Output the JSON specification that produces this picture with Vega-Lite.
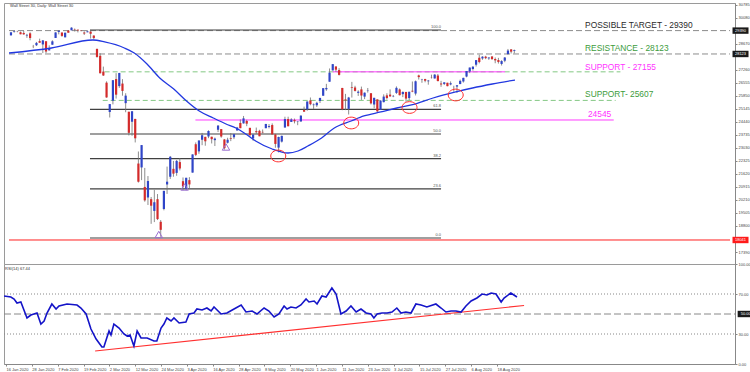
{
  "$schema": "https://vega.github.io/schema/vega-lite/v6.json",
  "padding": {"left": 0, "top": 2, "right": 4, "bottom": 0},
  "background": "white",
  "bounds": "flush",
  "spacing": 0,
  "config": {"view": {"stroke": "#9a9a9a", "strokeWidth": 1}, "font": "Liberation Sans", "concat": {"spacing": 0}},
  "datasets": {
    "candles": [
      {"i":0,"o":29131,"h":29298,"l":29131,"c":29298},{"i":1,"o":29313,"h":29373,"l":29281,"c":29348},{"i":2,"o":29348,"h":29380,"l":29300,"c":29340},{"i":3,"o":29297,"h":29341,"l":29189,"c":29196},{"i":4,"o":29263,"h":29374,"l":29168,"c":29186},{"i":5,"o":29123,"h":29214,"l":28998,"c":29160},{"i":6,"o":29242,"h":29304,"l":28866,"c":28990},{"i":7,"o":28542,"h":28615,"l":28441,"c":28535},{"i":8,"o":28596,"h":28776,"l":28554,"c":28723},{"i":9,"o":28820,"h":28954,"l":28728,"c":28734},
      {"i":10,"o":28640,"h":28879,"l":28170,"c":28859},{"i":11,"o":28813,"h":28813,"l":28169,"c":28256},{"i":12,"o":28319,"h":28592,"l":28319,"c":28400},{"i":13,"o":28625,"h":28865,"l":28625,"c":28808},{"i":14,"o":28991,"h":29300,"l":28991,"c":29290},{"i":15,"o":29316,"h":29408,"l":29187,"c":29380},{"i":16,"o":29286,"h":29286,"l":29056,"c":29103},{"i":17,"o":29025,"h":29277,"l":29025,"c":29276},{"i":18,"o":29390,"h":29416,"l":29276,"c":29276},{"i":19,"o":29406,"h":29568,"l":29406,"c":29551},
      {"i":20,"o":29443,"h":29504,"l":29343,"c":29423},{"i":21,"o":29440,"h":29441,"l":29292,"c":29398},{"i":22,"o":29398,"h":29420,"l":29350,"c":29380},{"i":23,"o":29285,"h":29347,"l":29153,"c":29232},{"i":24,"o":29300,"h":29409,"l":29300,"c":29348},{"i":25,"o":29334,"h":29408,"l":28959,"c":29219},{"i":26,"o":29120,"h":29132,"l":28908,"c":28992},{"i":27,"o":28402,"h":28402,"l":27921,"c":27961},{"i":28,"o":28025,"h":28163,"l":27060,"c":27081},{"i":29,"o":27168,"h":27439,"l":26933,"c":26957},
      {"i":30,"o":26568,"h":26640,"l":25752,"c":25767},{"i":31,"o":24977,"h":25409,"l":24681,"c":25409},{"i":32,"o":25591,"h":26706,"l":25391,"c":26703},{"i":33,"o":26763,"h":27084,"l":25706,"c":25917},{"i":34,"o":26383,"h":27102,"l":26286,"c":27091},{"i":35,"o":26519,"h":26759,"l":25862,"c":26121},{"i":36,"o":25458,"h":25995,"l":24964,"c":25865},{"i":37,"o":24992,"h":24992,"l":23707,"c":23851},{"i":38,"o":24453,"h":25020,"l":23690,"c":25018},{"i":39,"o":24604,"h":24604,"l":23328,"c":23553},
      {"i":40,"o":22185,"h":22838,"l":21154,"c":21200},{"i":41,"o":21973,"h":23186,"l":21285,"c":23185},{"i":42,"o":20917,"h":21948,"l":20116,"c":20189},{"i":43,"o":20345,"h":21507,"l":19938,"c":21237},{"i":44,"o":20253,"h":20373,"l":18917,"c":19899},{"i":45,"o":19617,"h":20755,"l":19012,"c":20087},{"i":46,"o":20253,"h":20531,"l":19122,"c":19174},{"i":47,"o":19028,"h":19121,"l":18214,"c":18592},{"i":48,"o":19722,"h":20705,"l":19649,"c":20705},{"i":49,"o":21050,"h":22020,"l":20539,"c":21201},
      {"i":50,"o":21469,"h":22595,"l":21351,"c":22552},{"i":51,"o":21898,"h":22327,"l":21469,"c":21637},{"i":52,"o":21678,"h":22378,"l":21522,"c":22327},{"i":53,"o":22264,"h":22480,"l":21812,"c":21917},{"i":54,"o":21228,"h":21430,"l":20735,"c":20943},{"i":55,"o":20819,"h":21413,"l":20735,"c":21413},{"i":56,"o":21285,"h":21447,"l":20863,"c":21053},{"i":57,"o":21693,"h":22680,"l":21693,"c":22680},{"i":58,"o":23232,"h":23328,"l":22588,"c":22654},{"i":59,"o":22845,"h":23443,"l":22713,"c":23434},
      {"i":60,"o":23473,"h":23844,"l":23179,"c":23720},{"i":61,"o":23632,"h":23632,"l":23150,"c":23391},{"i":62,"o":23652,"h":23988,"l":23559,"c":23950},{"i":63,"o":23637,"h":23637,"l":23273,"c":23505},{"i":64,"o":23451,"h":23593,"l":23133,"c":23538},{"i":65,"o":24015,"h":24264,"l":23891,"c":24242},{"i":66,"o":24052,"h":24052,"l":23585,"c":23650},{"i":67,"o":23489,"h":23517,"l":22942,"c":23019},{"i":68,"o":23312,"h":23581,"l":23272,"c":23475},{"i":69,"o":23553,"h":23840,"l":23399,"c":23515},
      {"i":70,"o":23609,"h":23792,"l":23510,"c":23775},{"i":71,"o":23976,"h":24168,"l":23976,"c":24134},{"i":72,"o":24381,"h":24574,"l":24101,"c":24101},{"i":73,"o":24361,"h":24764,"l":24353,"c":24634},{"i":74,"o":24491,"h":24556,"l":24210,"c":24346},{"i":75,"o":24120,"h":24120,"l":23645,"c":23724},{"i":76,"o":23548,"h":23777,"l":23422,"c":23750},{"i":77,"o":23941,"h":24135,"l":23794,"c":23883},{"i":78,"o":23958,"h":24015,"l":23662,"c":23664},{"i":79,"o":23900,"h":24030,"l":23820,"c":23875},
      {"i":80,"o":24100,"h":24332,"l":24100,"c":24331},{"i":81,"o":24170,"h":24325,"l":24092,"c":24221},{"i":82,"o":24271,"h":24362,"l":23764,"c":23764},{"i":83,"o":23760,"h":23793,"l":23043,"c":23248},{"i":84,"o":23049,"h":23644,"l":22789,"c":23625},{"i":85,"o":23374,"h":23698,"l":23324,"c":23685},{"i":86,"o":24136,"h":24722,"l":24136,"c":24597},{"i":87,"o":24596,"h":24722,"l":24201,"c":24206},{"i":88,"o":24438,"h":24641,"l":24438,"c":24576},{"i":89,"o":24550,"h":24622,"l":24361,"c":24474},
      {"i":90,"o":24444,"h":24480,"l":24264,"c":24465},{"i":91,"o":24465,"h":24800,"l":24450,"c":24780},{"i":92,"o":25082,"h":25270,"l":24991,"c":24995},{"i":93,"o":25124,"h":25548,"l":25050,"c":25548},{"i":94,"o":25608,"h":25764,"l":25343,"c":25401},{"i":95,"o":25351,"h":25441,"l":25145,"c":25383},{"i":96,"o":25342,"h":25531,"l":25252,"c":25475},{"i":97,"o":25573,"h":25743,"l":25466,"c":25742},{"i":98,"o":25860,"h":26275,"l":25860,"c":26270},{"i":99,"o":26208,"h":26505,"l":26126,"c":26282},
      {"i":100,"o":26619,"h":27338,"l":26619,"c":27111},{"i":101,"o":27232,"h":27580,"l":27232,"c":27572},{"i":102,"o":27447,"h":27447,"l":27154,"c":27272},{"i":103,"o":27251,"h":27355,"l":26958,"c":26990},{"i":104,"o":26283,"h":26283,"l":25076,"c":25128},{"i":105,"o":25659,"h":25960,"l":25081,"c":25606},{"i":106,"o":25148,"h":25797,"l":24843,"c":25763},{"i":107,"o":26326,"h":26611,"l":25760,"c":26290},{"i":108,"o":26307,"h":26400,"l":26089,"c":26120},{"i":109,"o":26016,"h":26155,"l":25849,"c":26080},
      {"i":110,"o":26203,"h":26356,"l":25633,"c":25871},{"i":111,"o":25812,"h":26038,"l":25678,"c":26025},{"i":112,"o":26137,"h":26280,"l":26031,"c":26156},{"i":113,"o":25996,"h":25996,"l":25386,"c":25446},{"i":114,"o":25384,"h":25752,"l":25183,"c":25746},{"i":115,"o":25662,"h":25662,"l":24971,"c":25016},{"i":116,"o":25095,"h":25614,"l":25095,"c":25596},{"i":117,"o":25512,"h":25935,"l":25500,"c":25813},{"i":118,"o":25880,"h":25994,"l":25656,"c":25735},{"i":119,"o":25921,"h":26204,"l":25800,"c":25827},
      {"i":120,"o":25827,"h":25900,"l":25780,"c":25850},{"i":121,"o":26014,"h":26365,"l":25957,"c":26287},{"i":122,"o":26200,"h":26251,"l":25876,"c":25890},{"i":123,"o":25945,"h":26090,"l":25784,"c":26067},{"i":124,"o":26066,"h":26066,"l":25524,"c":25706},{"i":125,"o":25732,"h":26078,"l":25623,"c":26075},{"i":126,"o":26130,"h":26631,"l":26051,"c":26086},{"i":127,"o":25978,"h":26683,"l":25875,"c":26643},{"i":128,"o":26960,"h":27002,"l":26737,"c":26870},{"i":129,"o":26715,"h":26776,"l":26562,"c":26735},
      {"i":130,"o":26764,"h":26780,"l":26587,"c":26672},{"i":131,"o":26643,"h":26715,"l":26457,"c":26681},{"i":132,"o":26850,"h":27003,"l":26793,"c":26840},{"i":133,"o":26796,"h":27026,"l":26792,"c":27005},{"i":134,"o":26955,"h":27039,"l":26645,"c":26652},{"i":135,"o":26523,"h":26666,"l":26343,"c":26470},{"i":136,"o":26500,"h":26589,"l":26438,"c":26585},{"i":137,"o":26563,"h":26564,"l":26370,"c":26379},{"i":138,"o":26470,"h":26637,"l":26426,"c":26540},{"i":139,"o":26312,"h":26400,"l":26080,"c":26314},
      {"i":140,"o":26356,"h":26437,"l":26008,"c":26428},{"i":141,"o":26491,"h":26735,"l":26491,"c":26665},{"i":142,"o":26633,"h":26836,"l":26572,"c":26828},{"i":143,"o":26900,"h":27201,"l":26860,"c":27201},{"i":144,"o":27175,"h":27390,"l":27085,"c":27387},{"i":145,"o":27308,"h":27463,"l":27220,"c":27433},{"i":146,"o":27541,"h":27791,"l":27443,"c":27791},{"i":147,"o":27919,"h":28079,"l":27615,"c":27686},{"i":148,"o":27880,"h":28001,"l":27806,"c":27977},{"i":149,"o":27978,"h":28022,"l":27842,"c":27897},
      {"i":150,"o":27885,"h":27942,"l":27803,"c":27931},{"i":151,"o":27987,"h":28006,"l":27808,"c":27844},{"i":152,"o":27851,"h":27932,"l":27621,"c":27778},{"i":153,"o":27792,"h":27913,"l":27603,"c":27692},{"i":154,"o":27583,"h":27787,"l":27497,"c":27739},{"i":155,"o":27758,"h":27958,"l":27677,"c":27930},{"i":156,"o":28123,"h":28395,"l":28077,"c":28308},{"i":157,"o":28370,"h":28392,"l":28149,"c":28249},{"i":158,"o":28289,"h":28360,"l":28159,"c":28332}
    ],
    "ma": [
      {"i":-0.6,"v":28176},{"i":12.7,"v":28447},{"i":25.7,"v":28881},{"i":29.4,"v":28773},{"i":35.6,"v":28447},{"i":38.7,"v":28176},{"i":42.7,"v":27580},{"i":46.7,"v":26821},{"i":51.1,"v":26225},{"i":55.1,"v":25575},{"i":59.1,"v":25033},{"i":63.5,"v":24653},{"i":67.5,"v":24328},{"i":70.6,"v":24111},{"i":73.7,"v":23786},{"i":76.8,"v":23407},{"i":82,"v":22973},{"i":87,"v":22756},{"i":90.1,"v":22865},{"i":93.2,"v":23136},{"i":97.5,"v":23569},{"i":101.5,"v":24111},{"i":106.8,"v":24491},{"i":110.8,"v":24762},{"i":116.1,"v":24979},{"i":121.1,"v":25195},{"i":125.7,"v":25358},{"i":132.5,"v":25737},{"i":139.6,"v":26063},{"i":144.9,"v":26279},{"i":151.1,"v":26496},{"i":158.2,"v":26713}
    ],
    "levels": [
      {"i":-0.62,"i2":225.7,"v":29390,"k":"gray"},
      {"i":-0.62,"i2":225.7,"v":28123,"k":"gray"},
      {"i":-0.62,"i2":225.7,"v":18041,"k":"red"},
      {"i":29.4,"i2":191.3,"v":27155,"k":"green"},
      {"i":28.8,"i2":189.8,"v":25607,"k":"green"},
      {"i":101,"i2":155.1,"v":27155,"k":"pink"},
      {"i":57.9,"i2":189.2,"v":24545,"k":"pink"},
      {"i":24.8,"i2":135,"v":29423,"k":"fib","t":"100.0"},
      {"i":24.8,"i2":135,"v":25117,"k":"fib","t":"61.8"},
      {"i":24.8,"i2":135,"v":23787,"k":"fib","t":"50.0"},
      {"i":24.8,"i2":135,"v":22456,"k":"fib","t":"38.2"},
      {"i":24.8,"i2":135,"v":20810,"k":"fib","t":"23.6"},
      {"i":24.8,"i2":135,"v":18150,"k":"fib","t":"0.0"}
    ],
    "notes": [
      {"i":180.2,"v":29694,"t":"POSSIBLE TARGET - 29390","k":"black"},
      {"i":180.2,"v":28447,"t":"RESISTANCE  - 28123","k":"green"},
      {"i":180.2,"v":27418,"t":"SUPPORT - 27155","k":"pink"},
      {"i":180.2,"v":25954,"t":"SUPPORT- 25607","k":"green"},
      {"i":181.1,"v":24870,"t":"24545","k":"pink"}
    ],
    "circles": [
      {"i":83.9,"v":22594},{"i":106.8,"v":24382},{"i":125.1,"v":25222},{"i":139.6,"v":25900}
    ],
    "triangles": [
      {"i":46.4,"v":18339},{"i":54.5,"v":20914},{"i":67.5,"v":23082}
    ],
    "boxes": [
      {"i":229,"v":29390,"t":"29390","k":"dark"},
      {"i":229,"v":28123,"t":"28123","k":"dark"},
      {"i":229,"v":18041,"t":"18041","k":"red"}
    ],
    "rsi": [
      {"i":-0.6,"v":68},{"i":1.5,"v":67},{"i":2.5,"v":65},{"i":3.4,"v":61},{"i":4.6,"v":62},{"i":6.5,"v":46},{"i":7.7,"v":49},{"i":9.6,"v":51},{"i":10.8,"v":40},{"i":11.8,"v":43},{"i":12.7,"v":51},{"i":14.2,"v":60},{"i":15.5,"v":55},{"i":16.4,"v":58},{"i":18.9,"v":60},{"i":22,"v":59},{"i":23.2,"v":56},{"i":24.8,"v":50},{"i":26.3,"v":35},{"i":27.9,"v":25},{"i":29.7,"v":17},{"i":30.3,"v":17},{"i":31.9,"v":33},{"i":32.5,"v":29},{"i":33.4,"v":40},{"i":35,"v":36},{"i":36.5,"v":30},{"i":37.5,"v":28},{"i":38.4,"v":29},{"i":39.6,"v":18},{"i":40.6,"v":33},{"i":41.8,"v":26},{"i":43.7,"v":26},{"i":45.8,"v":23},{"i":46.7,"v":23},{"i":48,"v":36},{"i":48.9,"v":40},{"i":49.8,"v":46},{"i":51.1,"v":43},{"i":52,"v":46},{"i":53.6,"v":41},{"i":55.7,"v":42},{"i":56.7,"v":50},{"i":58.2,"v":51},{"i":59.1,"v":55},{"i":60.7,"v":54},{"i":62.2,"v":56},{"i":63.5,"v":53},{"i":64.4,"v":57},{"i":66.6,"v":50},{"i":68.4,"v":51},{"i":70.6,"v":55},{"i":72.8,"v":59},{"i":74.3,"v":52},{"i":76.2,"v":53},{"i":77.7,"v":50},{"i":79.9,"v":56},{"i":81.4,"v":53},{"i":83,"v":47},{"i":84.5,"v":50},{"i":86.1,"v":58},{"i":87,"v":55},{"i":88.2,"v":57},{"i":89.8,"v":56},{"i":91.3,"v":59},{"i":92.9,"v":65},{"i":93.8,"v":62},{"i":95.4,"v":63},{"i":96.3,"v":60},{"i":97.8,"v":68},{"i":99.1,"v":67},{"i":100.9,"v":76},{"i":102.2,"v":70},{"i":103.7,"v":50},{"i":105.3,"v":53},{"i":106.8,"v":58},{"i":108.4,"v":52},{"i":109.9,"v":55},{"i":111.5,"v":51},{"i":113,"v":50},{"i":113.9,"v":46},{"i":114.9,"v":50},{"i":116.4,"v":51},{"i":118,"v":51},{"i":119.5,"v":52},{"i":121,"v":56},{"i":122.3,"v":51},{"i":123.8,"v":52},{"i":125.4,"v":51},{"i":126.9,"v":60},{"i":128.5,"v":59},{"i":130.3,"v":57},{"i":133.1,"v":60},{"i":134.7,"v":56},{"i":136.2,"v":52},{"i":137.8,"v":53},{"i":139.3,"v":53},{"i":140.9,"v":52},{"i":142.4,"v":58},{"i":144,"v":63},{"i":145.8,"v":66},{"i":147.4,"v":70},{"i":148.9,"v":69},{"i":150.2,"v":71},{"i":151.7,"v":70},{"i":153.3,"v":62},{"i":154.2,"v":66},{"i":156.3,"v":71},{"i":158.2,"v":67}
    ],
    "rsiLevels": [
      {"i":-0.62,"i2":225.7,"v":70,"k":"dot"},
      {"i":-0.62,"i2":225.7,"v":30,"k":"dot"},
      {"i":-0.62,"i2":225.7,"v":50,"k":"dash"}
    ],
    "rsiTrend": [{"i":27.6,"i2":160.4,"v":13,"v2":58.5}],
    "rsiBox": [{"i":229,"v":50,"t":"50.00"}],
    "rsiNote": [{"i":-0.3,"v":95,"t":"RSI(14) 67.44"}],
    "title": [{"i":-0.3,"v":30720,"t":"Wall Street 30, Daily: Wall Street 30"}]
  },
  "vconcat": [
    {
      "width": 731,
      "height": 261,
      "encoding": {
        "x": {"field": "i", "type": "quantitative", "scale": {"domain": [-0.62, 225.7], "nice": false, "zero": false}, "axis": null, "title": null},
        "y": {"field": "v", "type": "quantitative", "scale": {"domain": [16740, 30886], "nice": false, "zero": false}, "title": null,
              "axis": {"orient": "right", "values": [17390, 18800, 19505, 20210, 20915, 21620, 22325, 23030, 23735, 24440, 25145, 25850, 26555, 27260, 28670, 30080, 30785], "format": "d", "labelFontSize": 4, "labelColor": "#444", "tickSize": 2, "tickColor": "#888", "domainColor": "#888", "labelPadding": 1, "grid": false, "labelOverlap": false, "labelBound": false, "labelFlush": false}}
      },
      "layer": [
        {"data": {"name": "levels"}, "transform": [{"filter": "datum.k == 'gray'"}], "mark": {"type": "rule", "color": "#8c8c8c", "strokeWidth": 1, "strokeDash": [6, 3]}, "encoding": {"x2": {"field": "i2"}}},
        {"data": {"name": "levels"}, "transform": [{"filter": "datum.k == 'green'"}], "mark": {"type": "rule", "color": "#84c884", "strokeWidth": 1, "strokeDash": [5, 3]}, "encoding": {"x2": {"field": "i2"}}},
        {"data": {"name": "levels"}, "transform": [{"filter": "datum.k == 'pink'"}], "mark": {"type": "rule", "color": "#ff3cff", "strokeWidth": 1}, "encoding": {"x2": {"field": "i2"}}},
        {"data": {"name": "levels"}, "transform": [{"filter": "datum.k == 'red'"}], "mark": {"type": "rule", "color": "#ff2020", "strokeWidth": 1}, "encoding": {"x2": {"field": "i2"}}},
        {"data": {"name": "levels"}, "transform": [{"filter": "datum.k == 'fib'"}], "mark": {"type": "rule", "color": "#404040", "strokeWidth": 1.2}, "encoding": {"x2": {"field": "i2"}}},
        {"data": {"name": "levels"}, "transform": [{"filter": "datum.k == 'fib'"}], "mark": {"type": "text", "align": "right", "baseline": "bottom", "dy": -1, "fontSize": 4, "color": "#555"},
         "encoding": {"x": {"field": "i2", "type": "quantitative", "scale": {"domain": [-0.62, 225.7], "nice": false, "zero": false}, "title": null}, "text": {"field": "t"}}},
        {"data": {"name": "candles"}, "mark": {"type": "rule", "color": "#707070", "strokeWidth": 0.8},
         "encoding": {"y": {"field": "l", "type": "quantitative", "scale": {"domain": [16740, 30886], "nice": false, "zero": false}, "title": null}, "y2": {"field": "h"}}},
        {"data": {"name": "candles"}, "mark": {"type": "bar", "width": 2.2, "orient": "vertical"},
         "encoding": {"y": {"field": "o", "type": "quantitative", "scale": {"domain": [16740, 30886], "nice": false, "zero": false}, "title": null}, "y2": {"field": "c"},
                      "color": {"condition": {"test": "datum.c >= datum.o", "value": "#2f45c8"}, "value": "#d42a2a"}}},
        {"data": {"name": "ma"}, "mark": {"type": "line", "color": "#2238e0", "strokeWidth": 1.3, "interpolate": "monotone"}},
        {"data": {"name": "circles"}, "mark": {"type": "point", "shape": "M -1 0 A 1 0.78 0 1 0 1 0 A 1 0.78 0 1 0 -1 0 Z", "size": 225, "filled": false, "stroke": "#ff2a2a", "strokeWidth": 1, "opacity": 1}},
        {"data": {"name": "triangles"}, "mark": {"type": "point", "shape": "triangle-up", "size": 55, "filled": false, "stroke": "#9a6fd0", "strokeWidth": 1, "opacity": 1}},
        {"data": {"name": "notes"}, "mark": {"type": "text", "align": "left", "baseline": "middle", "fontSize": 8.4, "font": "Liberation Sans"},
         "encoding": {"text": {"field": "t"}, "color": {"field": "k", "type": "nominal", "scale": {"domain": ["black", "green", "pink"], "range": ["#2a2a2a", "#3c9c3c", "#ff33ff"]}, "legend": null}}},
        {"data": {"name": "title"}, "mark": {"type": "text", "align": "left", "baseline": "middle", "fontSize": 4, "color": "#333"}, "encoding": {"text": {"field": "t"}}},
        {"data": {"name": "boxes"}, "transform": [{"filter": "datum.k == 'dark'"}], "mark": {"type": "point", "shape": "M -1 -0.4 L 1 -0.4 L 1 0.4 L -1 0.4 Z", "size": 256, "filled": true, "fill": "#1a1a1a", "opacity": 1, "clip": false}},
        {"data": {"name": "boxes"}, "transform": [{"filter": "datum.k == 'red'"}], "mark": {"type": "point", "shape": "M -1 -0.4 L 1 -0.4 L 1 0.4 L -1 0.4 Z", "size": 256, "filled": true, "fill": "#ff1a1a", "opacity": 1, "clip": false}},
        {"data": {"name": "boxes"}, "mark": {"type": "text", "align": "center", "baseline": "middle", "fontSize": 4, "color": "white", "clip": false}, "encoding": {"text": {"field": "t"}}}
      ]
    },
    {
      "width": 731,
      "height": 100,
      "encoding": {
        "x": {"field": "i", "type": "quantitative", "scale": {"domain": [-0.62, 225.7], "nice": false, "zero": false}, "title": null,
              "axis": {"orient": "bottom", "values": [0, 8, 16, 24, 32, 40, 48, 56, 64, 72, 80, 88, 96, 104, 112, 120, 128, 136, 144, 152],
                       "labelExpr": "['16 Jan 2020','28 Jan 2020','7 Feb 2020','19 Feb 2020','2 Mar 2020','12 Mar 2020','24 Mar 2020','3 Apr 2020','16 Apr 2020','28 Apr 2020','8 May 2020','20 May 2020','1 Jun 2020','11 Jun 2020','23 Jun 2020','3 Jul 2020','15 Jul 2020','27 Jul 2020','6 Aug 2020','18 Aug 2020'][round(datum.value/8)]",
                       "labelAlign": "left", "labelFontSize": 4, "labelColor": "#444", "tickSize": 2, "tickColor": "#888", "domainColor": "#888", "labelPadding": 1, "grid": false, "labelOverlap": false, "labelBound": false, "labelFlush": false}},
        "y": {"field": "v", "type": "quantitative", "scale": {"domain": [0, 100], "nice": false, "zero": false}, "title": null,
              "axis": {"orient": "right", "values": [0, 30, 70, 100], "format": ".2f", "labelFontSize": 4, "labelColor": "#444", "tickSize": 2, "tickColor": "#888", "domainColor": "#888", "labelPadding": 1, "grid": false, "labelOverlap": false, "labelBound": false, "labelFlush": false}}
      },
      "layer": [
        {"data": {"name": "rsiLevels"}, "transform": [{"filter": "datum.k == 'dot'"}], "mark": {"type": "rule", "color": "#888", "strokeWidth": 1, "strokeDash": [1, 2]}, "encoding": {"x2": {"field": "i2"}}},
        {"data": {"name": "rsiLevels"}, "transform": [{"filter": "datum.k == 'dash'"}], "mark": {"type": "rule", "color": "#888", "strokeWidth": 1, "strokeDash": [7, 3]}, "encoding": {"x2": {"field": "i2"}}},
        {"data": {"name": "rsiTrend"}, "mark": {"type": "rule", "color": "#ff3030", "strokeWidth": 1.2}, "encoding": {"x2": {"field": "i2"}, "y2": {"field": "v2"}}},
        {"data": {"name": "rsi"}, "mark": {"type": "line", "color": "#1414c8", "strokeWidth": 1.6}},
        {"data": {"name": "rsiNote"}, "mark": {"type": "text", "align": "left", "baseline": "middle", "fontSize": 4, "color": "#333"}, "encoding": {"text": {"field": "t"}}},
        {"data": {"name": "rsiBox"}, "mark": {"type": "point", "shape": "M -1 -0.4 L 1 -0.4 L 1 0.4 L -1 0.4 Z", "size": 256, "filled": true, "fill": "#1a1a1a", "opacity": 1, "clip": false}},
        {"data": {"name": "rsiBox"}, "mark": {"type": "text", "align": "center", "baseline": "middle", "fontSize": 4, "color": "white", "clip": false}, "encoding": {"text": {"field": "t"}}}
      ]
    }
  ]
}
